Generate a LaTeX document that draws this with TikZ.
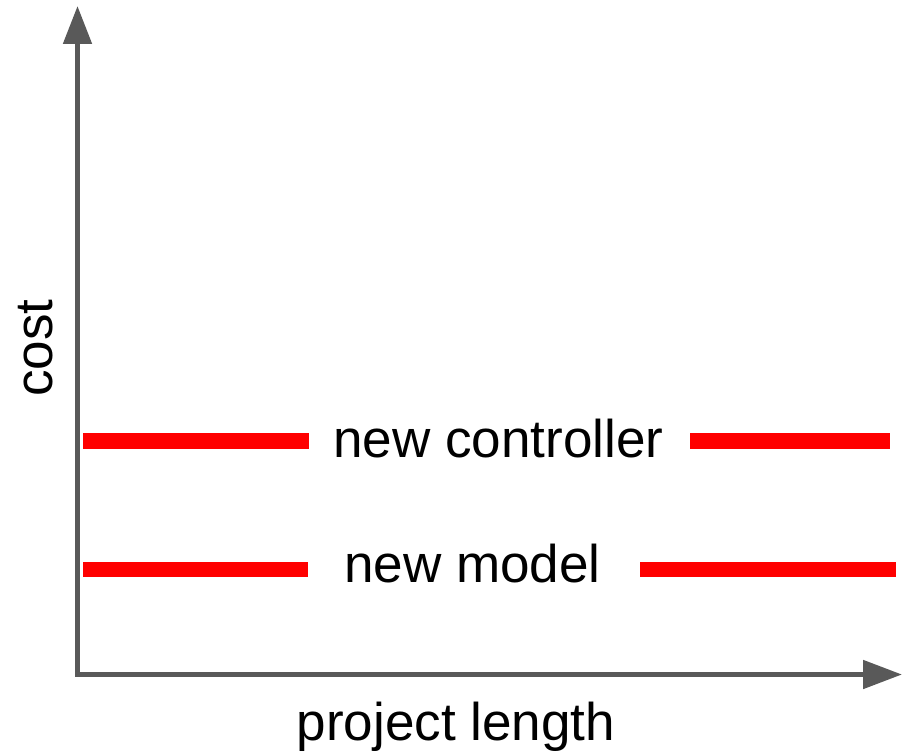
\documentclass[tikz,border=0pt]{standalone}
\usepackage{fontspec}
\setmainfont{Liberation Sans}
\usetikzlibrary{arrows.meta}

\begin{document}
\begin{tikzpicture}[x=0.02cm, y=-0.02cm,
    every node/.style={font=\fontsize{30.2}{36}\selectfont, inner sep=0pt},
    eje/.style={line width=0.1cm, draw={rgb,255:red,89;green,89;blue,89}},
    coste/.style={line width=0.31cm, draw={rgb,255:red,255;green,0;blue,0}}]
              \useasboundingbox (0,0) rectangle (913,753);
              % Puntos
              \coordinate (o) at (77.5,674.5);
              \coordinate (ytop) at (77.5,6);
              \coordinate (xend) at (902,674.5);
              \coordinate (c1) at (83,441);
              \coordinate (c2) at (309,441);
              \coordinate (c3) at (690,441);
              \coordinate (c4) at (890,441);
              \coordinate (m1) at (83,569.5);
              \coordinate (m2) at (308,569.5);
              \coordinate (m3) at (640,569.5);
              \coordinate (m4) at (896,569.5);

              % Nodos
              \node[anchor=base] (ctrl) at (498.5,457) {new controller};
              \node[anchor=base] (model) at (472.5,582) {new model};
              \node[anchor=base, rotate=90] (cost) at (52,348) {cost};
              \node[anchor=base] (len) at (456,740) {project length};

              % Ejes
              \draw[eje, {Triangle[length=0.76cm, width=0.56cm]}-{Triangle[length=0.78cm, width=0.56cm]}]
                (ytop) -- (o) -- (xend);

              % Costes
              \draw[coste] (c1) -- (c2);
              \draw[coste] (c3) -- (c4);
              \draw[coste] (m1) -- (m2);
              \draw[coste] (m3) -- (m4);
            \end{tikzpicture}
\end{document}
